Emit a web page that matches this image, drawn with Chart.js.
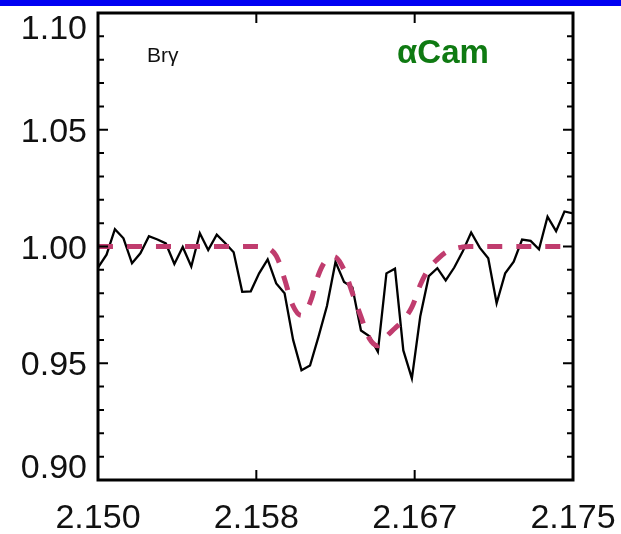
<!DOCTYPE html>
<html>
<head>
    <title>Br gamma profile</title>
    <meta charset="UTF-8">
    <script src="https://cdn.jsdelivr.net/npm/chart.js@4.4.1/dist/chart.umd.min.js"></script>
    <style>
        body { margin: 0; background: #fff; }
    </style>
</head>
<body>
    <canvas id="myChart" width="621" height="534"></canvas>

    <script>
        // wavelength (micron)
        var wavelength = [
            2.15000, 2.15045, 2.15089, 2.15134, 2.15179, 2.15223, 2.15268, 2.15313, 2.15357, 2.15402,
            2.15446, 2.15491, 2.15536, 2.15580, 2.15625, 2.15670, 2.15714, 2.15759, 2.15804, 2.15848,
            2.15893, 2.15938, 2.15982, 2.16027, 2.16071, 2.16116, 2.16161, 2.16205, 2.16250, 2.16295,
            2.16339, 2.16384, 2.16429, 2.16473, 2.16518, 2.16563, 2.16607, 2.16652, 2.16696, 2.16741,
            2.16786, 2.16830, 2.16875, 2.16920, 2.16964, 2.17009, 2.17054, 2.17098, 2.17143, 2.17188,
            2.17232, 2.17277, 2.17321, 2.17366, 2.17411, 2.17455, 2.17500
        ];
        // observed normalised flux (solid black)
        var observed = [
            0.9910, 0.9965, 1.0074, 1.0035, 0.9928, 0.9971, 1.0044, 1.0030, 1.0013, 0.9925,
            0.9998, 0.9914, 1.0057, 0.9985, 1.0051, 1.0014, 0.9975, 0.9806, 0.9808, 0.9885,
            0.9945, 0.9842, 0.9800, 0.9600, 0.9470, 0.9490, 0.9615, 0.9745, 0.9934, 0.9848,
            0.9825, 0.9640, 0.9615, 0.9549, 0.9885, 0.9905, 0.9555, 0.9435, 0.9700, 0.9873,
            0.9907, 0.9855, 0.9910, 0.9980, 1.0060, 0.9995, 0.9950, 0.9757, 0.9885, 0.9935,
            1.0030, 1.0024, 0.9988, 1.0128, 1.0066, 1.0150, 1.0142
        ];
        // model profile (dashed)
        var model = [
            1.0000, 1.0000, 1.0000, 1.0000, 1.0000, 1.0000, 1.0000, 1.0000, 1.0000, 1.0000,
            1.0000, 1.0000, 1.0000, 1.0000, 1.0000, 1.0000, 1.0000, 1.0000, 1.0000, 1.0000,
            0.9995, 0.9960, 0.9860, 0.9745, 0.9705, 0.9760, 0.9880, 0.9945, 0.9955, 0.9900,
            0.9800, 0.9700, 0.9605, 0.9575, 0.9615, 0.9650, 0.9685, 0.9740, 0.9835, 0.9905,
            0.9945, 0.9975, 0.9990, 0.9998, 1.0000, 1.0000, 1.0000, 1.0000, 1.0000, 1.0000,
            1.0000, 1.0000, 1.0000, 1.0000, 1.0000, 1.0000, 1.0000
        ];

        var xTickValues = [2.150, 2.158333, 2.166667, 2.175];
        var xTickLabels = ['2.150', '2.158', '2.167', '2.175'];
        var yTickValues = [0.90, 0.95, 1.00, 1.05, 1.10];
        var yTickLabels = ['0.90', '0.95', '1.00', '1.05', '1.10'];
        var yMinorTicks = [0.91, 0.92, 0.93, 0.94, 0.96, 0.97, 0.98, 0.99, 1.01, 1.02, 1.03, 1.04, 1.06, 1.07, 1.08, 1.09];

        var toPoints = function (ys) {
            return wavelength.map(function (x, i) { return { x: x, y: ys[i] }; });
        };

        var tickFont = { family: '"Liberation Sans", sans-serif', size: 34 };

        // blue strip, frame, inward ticks, y labels and the two annotations
        var framePlugin = {
            id: 'frame',
            beforeDraw: function (chart) {
                var ctx = chart.ctx;
                ctx.save();
                ctx.fillStyle = '#ffffff';
                ctx.fillRect(0, 0, chart.width, chart.height);
                ctx.fillStyle = '#0000f2';
                ctx.fillRect(0, 0, chart.width, 6);
                ctx.restore();
            },
            afterDraw: function (chart) {
                var ctx = chart.ctx, a = chart.chartArea;
                var xs = chart.scales.x, ys = chart.scales.y;
                ctx.save();
                ctx.strokeStyle = '#000';
                ctx.lineWidth = 2;
                ctx.beginPath();
                yTickValues.forEach(function (v) {
                    var py = ys.getPixelForValue(v);
                    ctx.moveTo(a.left, py); ctx.lineTo(a.left + 10, py);
                    ctx.moveTo(a.right, py); ctx.lineTo(a.right - 10, py);
                });
                yMinorTicks.forEach(function (v) {
                    var py = ys.getPixelForValue(v);
                    ctx.moveTo(a.left, py); ctx.lineTo(a.left + 6, py);
                    ctx.moveTo(a.right, py); ctx.lineTo(a.right - 6, py);
                });
                xTickValues.forEach(function (v) {
                    var px = xs.getPixelForValue(v);
                    ctx.moveTo(px, a.bottom); ctx.lineTo(px, a.bottom - 10);
                    ctx.moveTo(px, a.top); ctx.lineTo(px, a.top + 10);
                });
                ctx.stroke();
                ctx.lineWidth = 3;
                ctx.strokeRect(a.left, a.top, a.right - a.left, a.bottom - a.top);

                // y labels, end labels kept inside the frame height as in the original
                var cap = tickFont.size * 0.716;
                ctx.fillStyle = '#111';
                ctx.font = tickFont.size + 'px ' + tickFont.family;
                ctx.textAlign = 'right';
                ctx.textBaseline = 'alphabetic';
                yTickValues.forEach(function (v, i) {
                    var base = ys.getPixelForValue(v) + cap / 2;
                    base = Math.max(a.top + 2 + cap, Math.min(a.bottom - 2, base));
                    ctx.fillText(yTickLabels[i], a.left - 11, base);
                });

                ctx.textAlign = 'left';
                ctx.font = '21px "Liberation Sans", sans-serif';
                ctx.fillText('Brγ', xs.getPixelForValue(2.15258), ys.getPixelForValue(1.0790));
                ctx.fillStyle = '#0f7a12';
                ctx.font = 'bold 33px "Liberation Sans", sans-serif';
                ctx.fillText('αCam', xs.getPixelForValue(2.16574), ys.getPixelForValue(1.0786));
                ctx.restore();
            }
        };

        var ctx = document.getElementById('myChart');
        var myChart = new Chart(ctx, {
            type: 'line',
            data: {
                datasets: [{
                    label: 'model',
                    data: toPoints(model),
                    borderColor: '#c03c6e',
                    borderWidth: 5,
                    borderDash: [15, 14],
                    tension: 0.35,
                    pointRadius: 0,
                    fill: false,
                    order: 0
                }, {
                    label: 'observed',
                    data: toPoints(observed),
                    borderColor: '#000',
                    borderWidth: 2.3,
                    tension: 0,
                    pointRadius: 0,
                    fill: false,
                    order: 1
                }]
            },
            options: {
                responsive: false,
                animation: false,
                devicePixelRatio: 1,
                layout: { padding: { top: 13, right: 48, left: 0, bottom: 0 } },
                plugins: { legend: { display: false }, tooltip: { enabled: false } },
                scales: {
                    x: {
                        type: 'linear',
                        min: 2.150,
                        max: 2.175,
                        grid: { display: false, drawTicks: false },
                        border: { display: false },
                        afterBuildTicks: function (scale) {
                            scale.ticks = xTickValues.map(function (v) { return { value: v }; });
                        },
                        afterFit: function (scale) {
                            scale.height = 54;
                            scale.paddingLeft = 0;
                            scale.paddingRight = 0;
                        },
                        ticks: {
                            autoSkip: false,
                            maxRotation: 0,
                            padding: 18,
                            color: '#111',
                            font: tickFont,
                            callback: function (value, index) { return xTickLabels[index]; }
                        }
                    },
                    y: {
                        min: 0.90,
                        max: 1.10,
                        grid: { display: false, drawTicks: false },
                        border: { display: false },
                        afterFit: function (scale) {
                            scale.width = 98;
                            scale.paddingTop = 0;
                            scale.paddingBottom = 0;
                        },
                        ticks: { display: false }
                    }
                }
            },
            plugins: [framePlugin]
        });
    </script>
</body>
</html>
